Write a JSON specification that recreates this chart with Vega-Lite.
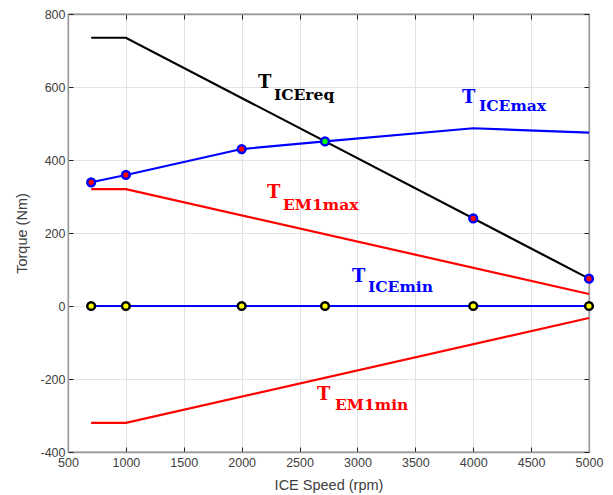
{
  "$schema": "https://vega.github.io/schema/vega-lite/v6.json",
  "width": 521,
  "height": 438,
  "autosize": {"type": "none"},
  "padding": {"left": 68, "top": 14, "right": 24, "bottom": 43},
  "background": "white",
  "config": {
    "view": {"stroke": "#999", "strokeWidth": 1.3},
    "axis": {
      "labelFont": "Liberation Sans",
      "titleFont": "Liberation Sans",
      "labelFontSize": 12.5,
      "titleFontSize": 14.5,
      "labelColor": "#404040",
      "titleColor": "#404040",
      "titleFontWeight": "normal",
      "domainColor": "#999",
      "domainWidth": 1.3,
      "tickColor": "#222",
      "tickWidth": 1,
      "gridColor": "#e3e3e3",
      "gridOpacity": 1,
      "labelFlush": false,
      "labelOverlap": false
    }
  },
  "resolve": {"axis": {"x": "independent", "y": "independent"}},
  "datasets": {
    "lines": [
      {"series": "ICEreq", "x": 700, "y": 735},
      {"series": "ICEreq", "x": 1000, "y": 735},
      {"series": "ICEreq", "x": 5000, "y": 75},
      {"series": "ICEmax", "x": 700, "y": 339},
      {"series": "ICEmax", "x": 1000, "y": 359},
      {"series": "ICEmax", "x": 2000, "y": 430},
      {"series": "ICEmax", "x": 2720, "y": 451},
      {"series": "ICEmax", "x": 4000, "y": 487},
      {"series": "ICEmax", "x": 5000, "y": 475},
      {"series": "ICEmin", "x": 700, "y": 0},
      {"series": "ICEmin", "x": 5000, "y": 0},
      {"series": "EM1max", "x": 700, "y": 320},
      {"series": "EM1max", "x": 1000, "y": 320},
      {"series": "EM1max", "x": 5000, "y": 33},
      {"series": "EM1min", "x": 700, "y": -320},
      {"series": "EM1min", "x": 1000, "y": -320},
      {"series": "EM1min", "x": 5000, "y": -33}
    ],
    "markers": [
      {"kind": "op", "x": 700, "y": 339},
      {"kind": "op", "x": 1000, "y": 359},
      {"kind": "op", "x": 2000, "y": 430},
      {"kind": "cross", "x": 2720, "y": 451},
      {"kind": "op", "x": 4000, "y": 240},
      {"kind": "op", "x": 5000, "y": 75},
      {"kind": "zero", "x": 700, "y": 0},
      {"kind": "zero", "x": 1000, "y": 0},
      {"kind": "zero", "x": 2000, "y": 0},
      {"kind": "zero", "x": 2720, "y": 0},
      {"kind": "zero", "x": 4000, "y": 0},
      {"kind": "zero", "x": 5000, "y": 0}
    ],
    "labels": [
      {"name": "ICEreq", "tx": 2141, "ty": 597, "sx": 2279, "sy": 564},
      {"name": "ICEmax", "tx": 3903, "ty": 556, "sx": 4050, "sy": 534},
      {"name": "EM1max", "tx": 2219, "ty": 296, "sx": 2357, "sy": 263},
      {"name": "ICEmin", "tx": 2953, "ty": 66, "sx": 3091, "sy": 38},
      {"name": "EM1min", "tx": 2651, "ty": -258, "sx": 2806, "sy": -285}
    ]
  },
  "layer": [
    {
      "data": {"name": "lines"},
      "mark": {"type": "line", "strokeWidth": 2.2},
      "encoding": {
        "x": {
          "field": "x", "type": "quantitative",
          "scale": {"domain": [500, 5000], "nice": false},
          "axis": {"orient": "bottom", "title": "ICE Speed (rpm)", "values": [500,1000,1500,2000,2500,3000,3500,4000,4500,5000], "labelExpr": "toString(datum.value)", "tickSize": -5, "labelPadding": 9, "titlePadding": 10, "grid": true}
        },
        "y": {
          "field": "y", "type": "quantitative",
          "scale": {"domain": [-400, 800], "nice": false},
          "axis": {"orient": "left", "title": "Torque (Nm)", "values": [-400,-200,0,200,400,600,800], "labelExpr": "toString(datum.value)", "tickSize": -5, "labelPadding": 8, "titlePadding": 10, "grid": true}
        },
        "detail": {"field": "series"},
        "color": {
          "field": "series", "type": "nominal",
          "scale": {"domain": ["ICEreq","ICEmax","ICEmin","EM1max","EM1min"], "range": ["#000000","#0000ff","#0000ff","#ff0000","#ff0000"]},
          "legend": null
        }
      }
    },
    {
      "data": {"name": "markers"},
      "mark": {"type": "point", "filled": false, "opacity": 1},
      "encoding": {
        "x": {"field": "x", "type": "quantitative", "axis": {"orient": "top", "title": null, "labels": false, "grid": false, "values": [500,1000,1500,2000,2500,3000,3500,4000,4500,5000], "tickSize": -5}},
        "y": {"field": "y", "type": "quantitative", "axis": {"orient": "right", "title": null, "labels": false, "grid": false, "values": [-400,-200,0,200,400,600,800], "tickSize": -5}},
        "fill": {
          "field": "kind", "type": "nominal",
          "scale": {"domain": ["op","cross","zero"], "range": ["#ff0000","#00ff00","#ffff00"]},
          "legend": null
        },
        "stroke": {
          "field": "kind", "type": "nominal",
          "scale": {"domain": ["op","cross","zero"], "range": ["#0000ff","#0000ff","#000000"]},
          "legend": null
        },
        "strokeWidth": {
          "field": "kind", "type": "nominal",
          "scale": {"domain": ["op","cross","zero"], "range": [2.5, 2.5, 1.5]},
          "legend": null
        },
        "size": {
          "field": "kind", "type": "nominal",
          "scale": {"domain": ["op","cross","zero"], "range": [60, 60, 40]},
          "legend": null
        }
      }
    },
    {
      "data": {"name": "labels"},
      "mark": {"type": "text", "font": "DejaVu Serif", "fontWeight": "bold", "fontSize": 18, "align": "left", "baseline": "alphabetic"},
      "encoding": {
        "x": {"field": "tx", "type": "quantitative", "axis": null},
        "y": {"field": "ty", "type": "quantitative", "axis": null},
        "text": {"value": "T"},
        "color": {"field": "name", "type": "nominal", "legend": null}
      }
    },
    {
      "data": {"name": "labels"},
      "mark": {"type": "text", "font": "DejaVu Serif", "fontWeight": "bold", "fontSize": 15.5, "align": "left", "baseline": "alphabetic"},
      "encoding": {
        "x": {"field": "sx", "type": "quantitative", "axis": null},
        "y": {"field": "sy", "type": "quantitative", "axis": null},
        "text": {"field": "name"},
        "color": {"field": "name", "type": "nominal", "legend": null}
      }
    }
  ]
}
